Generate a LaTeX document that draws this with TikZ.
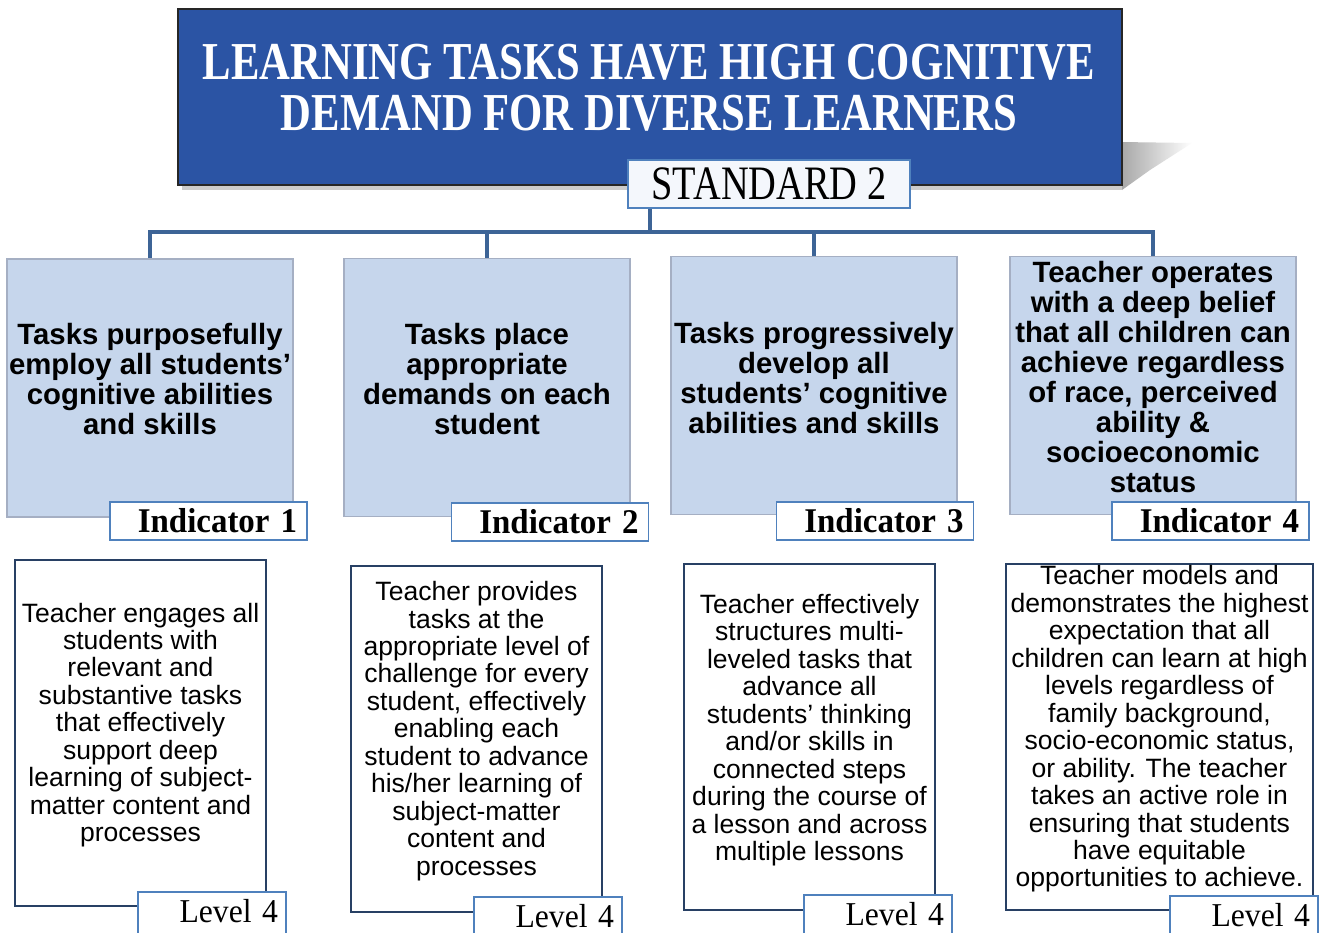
\documentclass[tikz,border=0pt]{standalone}
\usepackage{fontspec}
\usepackage{graphicx}
\setmainfont{Liberation Serif}
\newfontfamily\arialfont{Liberation Sans}
\definecolor{titleblue}{RGB}{43,84,164}
\definecolor{indfill}{RGB}{198,214,236}
\definecolor{indborder}{RGB}{165,175,195}
\definecolor{connc}{RGB}{61,100,150}
\definecolor{lblborder}{RGB}{79,129,189}
\definecolor{lvlborder}{RGB}{40,64,100}
\definecolor{stdfill}{RGB}{244,247,252}
\tikzset{
  titlebox/.style={draw=black!85, line width=1.5pt, fill=titleblue, minimum width=708pt, minimum height=132pt, inner sep=0pt},
  titletext/.style={text=white, align=center, font=\bfseries\fontsize{40pt}{38pt}\selectfont, inner sep=0pt},
  stdbox/.style={draw=lblborder, line width=1.3pt, fill=stdfill, minimum width=211.5pt, minimum height=36pt, inner sep=0pt, font=\fontsize{36pt}{36pt}\selectfont},
  indbox/.style={draw=indborder, line width=0.8pt, fill=indfill, minimum width=214.5pt, minimum height=193.5pt, inner sep=0pt},
  indtext/.style={align=center, inner sep=0pt, font=\arialfont\bfseries\fontsize{22pt}{22.5pt}\selectfont},
  indlabel/.style={draw=lblborder, line width=1.4pt, fill=white, minimum height=28.5pt, inner ysep=0pt, inner xsep=7.5pt, text width=132.75pt, align=right, font=\bfseries\fontsize{26pt}{26pt}\selectfont},
  lvlbox/.style={draw=lvlborder, line width=2pt, fill=white, minimum height=259.5pt, inner sep=0pt},
  lvltext/.style={align=center, inner sep=0pt, font=\arialfont\fontsize{19.9pt}{20.6pt}\selectfont},
  lvllabel/.style={draw=lblborder, line width=1.4pt, fill=white, minimum height=33pt, inner ysep=0pt, inner xsep=6pt, text width=99pt, align=right, font=\fontsize{25pt}{25pt}\selectfont},
  connline/.style={draw=connc, line width=3pt}
}
\newcommand{\lvltag}{\raisebox{5pt}{\scalebox{0.95}[1]{Level 4}}}
\begin{document}
\begin{tikzpicture}[x=0.75pt,y=-0.75pt]
\useasboundingbox (0,0) rectangle (1323,932);
\fill[white] (0,0) rectangle (1323,932);
% shadow of title
\shade[left color=black!35, right color=white, draw=none] (1120,142) -- (1192,143) -- (1150,170) -- (1122,190) -- cycle;
\fill[black!20] (182,185) rectangle (1122,190);
% title
\node[titlebox] (title) at (650,97) {};
\node[titletext] (titlet) at (649,88) {\scalebox{0.80}[1]{LEARNING TASKS HAVE HIGH COGNITIVE}\\\scalebox{0.80}[1]{DEMAND FOR DIVERSE LEARNERS}};
% indicator boxes
\node[indbox] (i1) at (150,388) {};
\node[indbox] (i2) at (487,387.5) {};
\node[indbox] (i3) at (814,385.5) {};
\node[indbox] (i4) at (1153,385.5) {};
% connectors
\coordinate (bus) at (650,232);
\node[stdbox] (std) at (769,184) {\scalebox{0.8}[1]{STANDARD 2}};
\draw[connline] (std.south -| bus) -- (bus);
\draw[connline] (bus) -| (i1.north);
\draw[connline] (bus) -| (i2.north);
\draw[connline] (bus) -| (i3.north);
\draw[connline] (bus) -| (i4.north);
\node[stdbox] at (std) {\scalebox{0.8}[1]{STANDARD 2}};
% indicator texts
\node[indtext] (t1) at (150,379) {Tasks purposefully\\employ all students’\\cognitive abilities\\and skills};
\node[indtext] (t2) at (487,379) {Tasks place\\appropriate\\demands on each\\student};
\node[indtext] (t3) at (814,378) {Tasks progressively\\develop all\\students’ cognitive\\abilities and skills};
\node[indtext] (t4) at (1153,377) {Teacher operates\\with a deep belief\\that all children can\\achieve regardless\\of race, perceived\\ability \&\\socioeconomic\\status};
% indicator labels
\node[indlabel] (l1) at (208.5,521) {\scalebox{0.95}[1]{Indicator 1}};
\node[indlabel] (l2) at (550,522) {\scalebox{0.95}[1]{Indicator 2}};
\node[indlabel] (l3) at (875,521) {\scalebox{0.95}[1]{Indicator 3}};
\node[indlabel] (l4) at (1210.5,521) {\scalebox{0.95}[1]{Indicator 4}};
% level boxes
\node[lvlbox, minimum width=188.25pt] (v1) at (140.5,733) {};
\node[lvlbox, minimum width=188.25pt] (v2) at (476.5,739) {};
\node[lvlbox, minimum width=188.25pt] (v3) at (809.5,737) {};
\node[lvlbox, minimum width=230.25pt] (v4) at (1159.5,737) {};
\node[lvltext] (w1) at (140.5,725) {Teacher engages all\\students with\\relevant and\\substantive tasks\\that effectively\\support deep\\learning of subject-\\matter content and\\processes};
\node[lvltext] (w2) at (476.5,731) {Teacher provides\\tasks at the\\appropriate level of\\challenge for every\\student, effectively\\enabling each\\student to advance\\his/her learning of\\subject-matter\\content and\\processes};
\node[lvltext] (w3) at (809.5,730) {Teacher effectively\\structures multi-\\leveled tasks that\\advance all\\students’ thinking\\and/or skills in\\connected steps\\during the course of\\a lesson and across\\multiple lessons};
\node[lvltext] (w4) at (1159.5,729) {Teacher models and\\demonstrates the highest\\expectation that all\\children can learn at high\\levels regardless of\\family background,\\socio-economic status,\\or ability. The teacher\\takes an active role in\\ensuring that students\\have equitable\\opportunities to achieve.};
% level labels
\node[lvllabel] (m1) at (212,914) {\lvltag};
\node[lvllabel] (m2) at (548,919) {\lvltag};
\node[lvllabel] (m3) at (878,917) {\lvltag};
\node[lvllabel] (m4) at (1244,918) {\lvltag};
\end{tikzpicture}
\end{document}
